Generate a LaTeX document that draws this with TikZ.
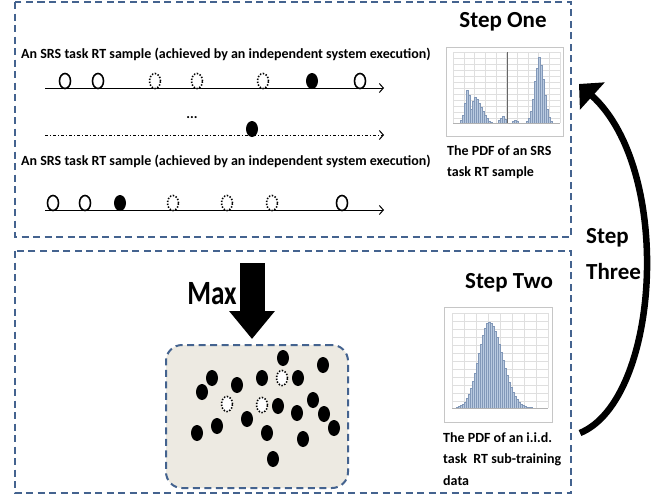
\documentclass[tikz,border=0pt]{standalone}
\usepackage{fontspec}
\setmainfont{Carlito}
\usetikzlibrary{arrows.meta,shapes.geometric}

\definecolor{framecol}{HTML}{44638F}
\definecolor{cloudfill}{HTML}{EDEAE2}
\definecolor{barfill}{HTML}{B9CAE0}
\definecolor{barline}{HTML}{8298B8}

\begin{document}
\begin{tikzpicture}[x=1pt, y=-1pt,
    stepframe/.style={draw=framecol, line width=2pt, dash pattern=on 7pt off 4.5pt},
    heading/.style={font=\fontsize{23}{36}\selectfont\bfseries, inner sep=0pt, align=center},
    caption/.style={font=\fontsize{14}{21.5}\selectfont\bfseries, inner sep=0pt, align=left},
    rtline/.style={line width=1pt, -{Straight Barb[length=4pt,width=9pt]}},
    rtopen/.style={ellipse, draw, line width=1.6pt, fill=white, inner sep=0pt, minimum width=11pt, minimum height=15pt},
    rtmiss/.style={rtopen, line width=1.6pt, dash pattern=on 1.4pt off 1.6pt},
    rthit/.style={ellipse, fill=black, inner sep=0pt, minimum width=12pt, minimum height=16pt},
    chartframe/.style={draw=gray!45, line width=0.6pt, fill=white},
    chartgrid/.style={draw=gray!25, line width=0.3pt},
    bar/.style={fill=barfill, draw=barline, line width=0.25pt},
    maxarrow/.style={line width=25pt, -{Triangle[length=28pt,width=44pt]}, shorten >=5pt},
    loopback/.style={line width=6.5pt, -{Triangle[length=18pt,width=36pt]}}
]
\useasboundingbox (0,0) rectangle (660,498);

% the two step frames
\draw[stepframe] (15,2) rectangle (571,237);
\draw[stepframe] (15,251) rectangle (571,493);

% Step One: response time samples
\node[caption, anchor=base west] (lbla) at (21,58)
    {An SRS task RT sample (achieved by an independent system execution)};
\coordinate (la0) at (45,88);
\coordinate (la1) at (384,88);
\draw[rtline] (la0) -- (la1);
\foreach \x/\kind [count=\i] in {65/rtopen, 98/rtopen, 155/rtmiss, 197/rtmiss,
        263/rtmiss, 312/rthit, 360/rtopen}
    \node[\kind] (pa\i) at (\x,81) {};

\node[caption, anchor=base] (gap) at (192,118) {...};
\coordinate (lb0) at (45,135);
\coordinate (lb1) at (384,135);
\draw[rtline, dash dot] (lb0) -- (lb1);
\node[rthit] (pb1) at (252,129) {};

\node[caption, anchor=base west] (lblc) at (21,165)
    {An SRS task RT sample (achieved by an independent system execution)};
\coordinate (lc0) at (45,210);
\coordinate (lc1) at (384,210);
\draw[rtline] (lc0) -- (lc1);
\foreach \x/\kind [count=\i] in {53/rtopen, 85/rtopen, 120/rthit, 173/rtmiss,
        227/rtmiss, 272/rtmiss, 342/rtopen}
    \node[\kind] (pc\i) at (\x,203) {};

% Step One: pdf of one sample
\node[heading] (one) at (503,22) {Step One};
\draw[chartframe] (446,47) rectangle (563,136);
\foreach \x in {453,463.7,...,560} \draw[chartgrid] (\x,52) -- (\x,123);
\foreach \y in {52,58,...,123} \draw[chartgrid] (453,\y) -- (560,\y);
\foreach \x/\h in {460/3, 462/8, 464/20, 466/33, 468/28, 470/14, 472/22, 474/26,
        476/24, 478/20, 480/16, 482/12, 484/8, 486/5, 488/2, 490/1, 498/3, 500/5,
        502/7, 504/4, 512/2, 514/3, 516/2, 526/2, 528/5, 530/12, 532/24, 534/42,
        536/55, 538/66, 540/58, 542/44, 544/28, 546/14, 548/6, 550/2}
    \filldraw[bar] (\x,123) rectangle ++(2,-\h);
\draw[gray!80!black, line width=0.6pt] (507,52) -- (507,123);
\draw[gray!60, line width=0.4pt] (453,123) -- (560,123);
\node[caption, anchor=north west] (pdfa) at (447,145) {The PDF of an SRS\\task RT sample};

% Step Two: maximum over the samples
\node[heading] (two) at (509,283) {Step Two};
\node[font=\fontsize{34}{34}\selectfont\bfseries, inner sep=0pt] (max) at (212,294)
    {\scalebox{0.8}[1]{Max}};
\node[draw=framecol, line width=2pt, dash pattern=on 7pt off 4.5pt, fill=cloudfill,
    rounded corners=16pt, minimum width=182pt, minimum height=143pt] (cloud) at (257,416.5) {};
\coordinate (maxtop) at (252,263);
\draw[maxarrow] (maxtop) -- (maxtop |- cloud.north);
\foreach \x/\y [count=\i] in {283/358, 323/365, 212/378, 202/392, 237/385, 262/378,
        298/378, 278/406, 313/400, 297/413, 324/414, 247/419, 217/426, 197/433,
        267/433, 334/428, 303/439, 273/459}
    \node[rthit] (pd\i) at (\x,\y) {};
\foreach \x/\y [count=\i] in {282/378, 227/404, 262/405}
    \node[rtmiss] (pm\i) at (\x,\y) {};

% Step Two: pdf of the i.i.d. data
\draw[chartframe] (444,307) rectangle (552,422);
\foreach \x in {452,464,...,548} \draw[chartgrid] (\x,313) -- (\x,408);
\foreach \y in {313,321,...,408} \draw[chartgrid] (452,\y) -- (548,\y);
\foreach \x in {456,458,...,540} {
    \pgfmathsetmacro\h{86*exp(-((\x-488)^2)/(2*((\x<488)?10.5:13)^2))}
    \filldraw[bar] (\x,408) rectangle ++(2,-\h);
}
\draw[gray!60, line width=0.4pt] (452,408) -- (548,408);
\node[caption, anchor=north west] (pdfb) at (443,432)
    {The PDF of an i.i.d.\\task\ \ RT sub-training\\data};

% Step Three: back to sampling
\coordinate (loopfrom) at (580,433);
\coordinate (loopto) at (579,84);
\draw[loopback] (loopfrom) .. controls (660,400) and (674,170) .. (loopto);
\node[heading, align=left, anchor=north west] (three) at (586,228) {Step\\Three};

\end{tikzpicture}
\end{document}
